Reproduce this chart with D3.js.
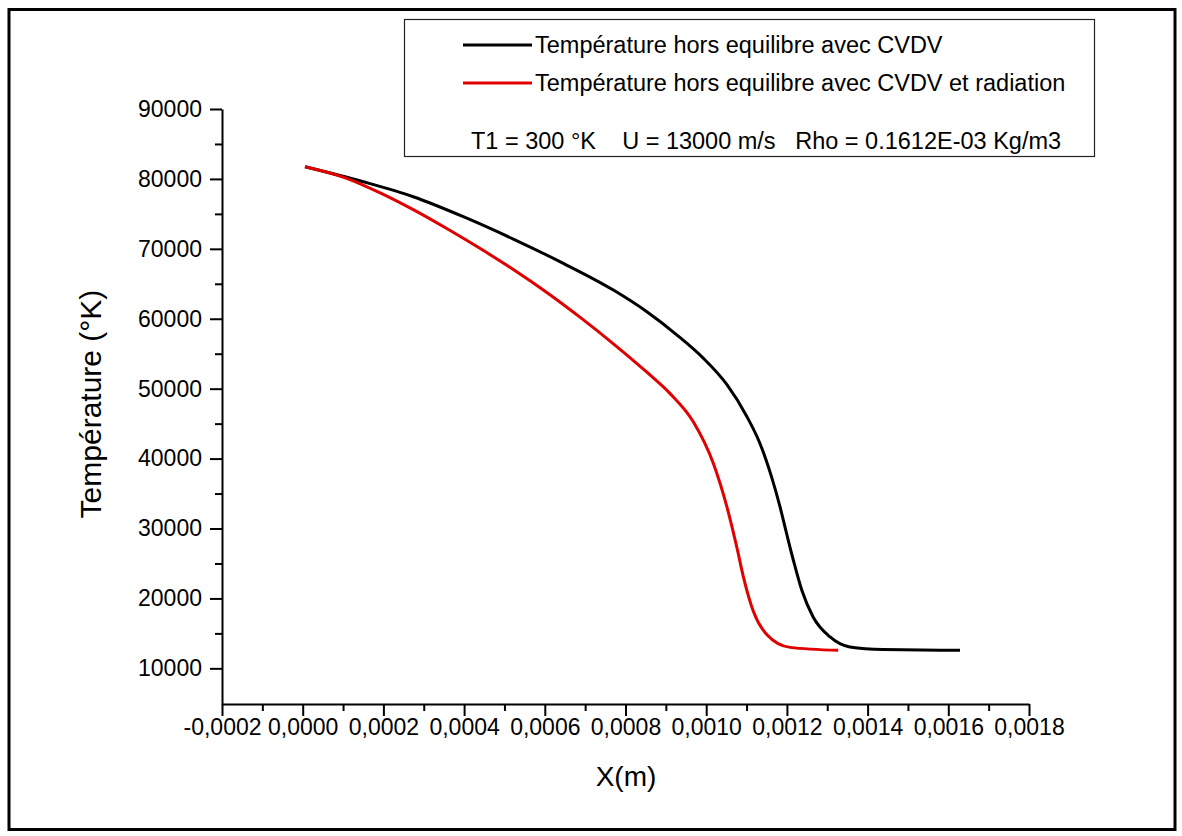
<!DOCTYPE html>
<html><head><meta charset="utf-8">
<script src="https://cdn.jsdelivr.net/npm/d3@7"></script>
<style>body{margin:0;background:#fff;}svg{display:block;font-family:"Liberation Sans",Arial,sans-serif;}</style>
</head><body>
<svg id="chart" width="1182" height="836"></svg>
<script>
const seriesNames = ["Température hors equilibre avec CVDV", "Température hors equilibre avec CVDV et radiation"];
const seriesColors = ["#000000", "#e00000"];
const blackX = [0.0000057,0.000150,0.000274,0.000398,0.000522,0.000646,0.000770,0.000853,0.000927,0.000992,0.001051,0.001100,0.001133,0.001162,0.001183,0.001199,0.001216,0.001237,0.001265,0.001307,0.001356,0.001438,0.001629];
const blackT = [81740,79600,77450,74600,71400,67920,64100,61000,57700,54400,50600,46100,42200,37380,33090,29330,25460,21170,17350,14490,13050,12680,12580];
const redX = [0.0000057,0.000109,0.000192,0.000274,0.000357,0.000439,0.000522,0.000605,0.000687,0.000770,0.000853,0.000910,0.000968,0.001018,0.001051,0.001076,0.001092,0.001117,0.001150,0.001208,0.001327];
const redT = [81740,80090,78000,75600,72900,70070,67040,63760,60230,56420,52350,49330,45270,39270,33170,27290,23130,18130,14850,13000,12580];
const xTicks = [-0.0002,0,0.0002,0.0004,0.0006,0.0008,0.0010,0.0012,0.0014,0.0016,0.0018];
const yTicks = [10000,20000,30000,40000,50000,60000,70000,80000,90000];
const infoText = "T1 = 300 °K    U = 13000 m/s   Rho = 0.1612E-03 Kg/m3";

const svg = d3.select("#chart");
const x = d3.scaleLinear().domain([-0.0002, 0.0018]).range([222, 1029]);
const y = d3.scaleLinear().domain([4900, 90000]).range([704, 109]);

// outer frame
svg.append("rect").attr("x",9).attr("y",9.5).attr("width",1166).attr("height",820)
  .attr("fill","none").attr("stroke","#000").attr("stroke-width",3);

const fmt = v => d3.format(".4f")(v).replace(".", ",").replace("−","-");

const xMinor = d3.range(-0.0002, 0.00181, 0.0001).filter(v => !xTicks.some(t => Math.abs(t-v) < 1e-9));
const yMinor = d3.range(15000, 90000, 10000);

const xAxis = svg.append("g").attr("transform","translate(0,704)")
  .call(d3.axisBottom(x).tickValues(xTicks).tickFormat(fmt).tickSize(12).tickSizeOuter(0));
svg.append("g").attr("transform","translate(0,704)")
  .call(d3.axisBottom(x).tickValues(xMinor).tickFormat("").tickSize(7).tickSizeOuter(0))
  .select(".domain").remove();
xAxis.selectAll("text").attr("font-size",23).attr("dy","0.71em").attr("y",15).attr("fill","#000");

const yAxis = svg.append("g").attr("transform","translate(222,0)")
  .call(d3.axisLeft(y).tickValues(yTicks).tickFormat(d3.format("d")).tickSize(12).tickSizeOuter(0));
svg.append("g").attr("transform","translate(222,0)")
  .call(d3.axisLeft(y).tickValues(yMinor).tickFormat("").tickSize(7).tickSizeOuter(0))
  .select(".domain").remove();
yAxis.selectAll("text").attr("font-size",23).attr("x",-20).attr("fill","#000");
svg.selectAll(".domain, .tick line").attr("stroke","#000").attr("stroke-width",2);

// axis titles
svg.append("text").attr("x",626).attr("y",786).attr("text-anchor","middle")
  .attr("font-size",28).text("X(m)");
svg.append("text").attr("transform","translate(101,404) rotate(-90)").attr("text-anchor","middle")
  .attr("font-size",30).text("Température (°K)");

// curves
const line = d3.line().x(d => x(d[0])).y(d => y(d[1])).curve(d3.curveMonotoneX);
const blackData = blackX.map((v,i) => [v, blackT[i]]);
const redData = redX.map((v,i) => [v, redT[i]]);
svg.append("path").datum(blackData).attr("d",line).attr("fill","none")
  .attr("stroke",seriesColors[0]).attr("stroke-width",3);
svg.append("path").datum(redData).attr("d",line).attr("fill","none")
  .attr("stroke",seriesColors[1]).attr("stroke-width",3);

// legend
const lg = svg.append("g");
lg.append("rect").attr("x",404.5).attr("y",19.5).attr("width",690).attr("height",137)
  .attr("fill","#fff").attr("stroke","#222").attr("stroke-width",1.2);
seriesNames.forEach((n,i) => {
  const yy = 45 + i*38;
  lg.append("line").attr("x1",463).attr("x2",532).attr("y1",yy).attr("y2",yy)
    .attr("stroke",seriesColors[i]).attr("stroke-width",3);
  lg.append("text").attr("x",535).attr("y",yy).attr("dy","0.35em").attr("font-size",23.5).text(n);
});
lg.append("text").attr("x",471).attr("y",149).attr("font-size",23.5).style("white-space","pre").text(infoText);
</script>
</body></html>
